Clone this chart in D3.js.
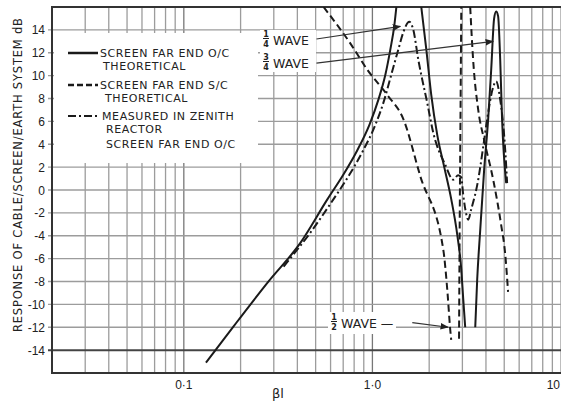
<!DOCTYPE html>
<html>
<head>
<meta charset="utf-8">
<script src="https://cdn.jsdelivr.net/npm/d3@7"></script>
<style>
  body { margin: 0; background: #fff; }
  text { font-family: "DejaVu Sans", sans-serif; fill: #222; }
</style>
</head>
<body>
<script>
// tick values / labels
const yTicks = [-14, -12, -10, -8, -6, -4, -2, 0, 2, 4, 6, 8, 10, 12, 14];
const xTickVals = [0.1, 1, 10];
const xTickLabels = ["0·1", "1·0", "10"];

// screen far end O/C theoretical (3 branches)  [βl, dB]
const ocRise = [[0.131,-15.1],[0.184,-11.9],[0.278,-8.1],[0.416,-4.6],[0.578,-0.8],[0.702,1.35],[0.833,3.5],[0.964,5.7],[1.076,7.9],[1.172,10.1],[1.245,12.3],[1.307,14.4],[1.34,16]];
const ocFall = [[1.816,16],[1.931,12.3],[2.052,8.3],[2.208,4.8],[2.404,2.0],[2.618,-0.8],[2.817,-3.9],[2.958,-6.9],[3.03,-9.5],[3.105,-12.0]];
const ocPeak = [[3.51,-12.0],[3.595,-7.8],[3.73,-3.5],[3.914,1.8],[4.11,6.2],[4.264,10.5],[4.42,15.0],[4.53,15.6],[4.64,15.2],[4.76,11.4],[4.87,6.2],[5.12,0.6]];

// screen far end S/C theoretical
const scDrop = [[0.551,16],[0.765,12.8],[0.941,10.5],[1.2,8.3],[1.459,6.2],[1.795,1.2],[2.375,-5.2],[2.494,-8.7],[2.586,-12.2],[2.617,-13.1]];
const scMid = [[2.88,-13],[2.9,-4],[2.93,6],[2.96,16]];
const scRise = [[3.30,16],[3.42,11.4],[3.64,7.0],[3.91,4.4],[4.37,0.9],[4.81,-3.0],[5.06,-5.6],[5.24,-8.9]];

// measured in Zenith reactor, screen far end O/C
const measured = [[0.338,-6.7],[0.47,-3.7],[0.622,-0.8],[0.756,1.35],[0.896,3.5],[1.037,5.7],[1.157,7.9],[1.26,10.1],[1.373,12.3],[1.459,13.8],[1.57,14.7],[1.648,14.0],[1.751,11.4],[1.954,7.6],[2.103,5.0],[2.434,2.2],[2.683,0.9],[2.851,1.3],[2.958,1.1],[3.03,-0.4],[3.144,-2.1],[3.22,-2.6],[3.34,-1.7],[3.64,0.9],[3.87,3.8],[4.06,6.2],[4.37,9.0],[4.53,9.5],[4.76,7.9],[5.06,3.5],[5.18,0.6]];

// annotation arrows: [from, to] in data units
const quarterArrow = [[0.505,13.2],[1.406,14.3]];
const threeQArrow = [[0.505,11.1],[4.37,13.0]];
const halfArrow = [[1.628,-11.6],[2.52,-12.0]];

let W = 561, H = 403;
let margin = {top: 7, left: 52, bottom: 30};

let x = d3.scaleLog().domain([0.02, 10]).range([margin.left, W]);
let y = d3.scaleLinear().domain([-16, 16]).range([H - margin.bottom, margin.top]);

let svg = d3.select("body").append("svg")
    .attr("width", W).attr("height", H);

svg.append("defs").append("clipPath").attr("id", "plot")
  .append("rect")
    .attr("x", x(0.02)).attr("y", y(16))
    .attr("width", x(10) - x(0.02)).attr("height", y(-16) - y(16));

// grid
let grid = svg.append("g");
grid.selectAll(".vg")
    .data(x.ticks())
    .enter().append("line")
    .attr("x1", d => x(d)).attr("x2", d => x(d))
    .attr("y1", y(16)).attr("y2", y(-16))
    .attr("stroke", d => (d === 1 || d === 0.1) ? "#777" : "#9c9c9c")
    .attr("stroke-width", 1.3);
grid.selectAll(".hg")
    .data(yTicks)
    .enter().append("line")
    .attr("x1", x(0.02) - 4).attr("x2", W)
    .attr("y1", d => y(d)).attr("y2", d => y(d))
    .attr("stroke", d => d === -14 ? "#444" : "#9c9c9c")
    .attr("stroke-width", d => d === -14 ? 2 : 1.3);

// white areas behind the legend and labels
svg.append("rect").attr("x", 54).attr("y", 33).attr("width", 204).attr("height", 130).attr("fill", "#fff");
svg.append("rect").attr("x", 260).attr("y", 30).attr("width", 56).attr("height", 42).attr("fill", "#fff");
svg.append("rect").attr("x", 328).attr("y", 312).attr("width", 68).attr("height", 22).attr("fill", "#fff");

// frame
svg.append("path")
    .attr("d", `M${W},${y(16)}H${x(0.02)}V${y(-16)}H${W}`)
    .attr("fill", "none").attr("stroke", "#333").attr("stroke-width", 2);

// y tick labels
svg.selectAll(".yl")
    .data(yTicks)
    .enter().append("text")
    .attr("x", 45).attr("y", d => y(d) + 4.5)
    .attr("text-anchor", "end")
    .style("font-size", "12px")
    .style("font-family", "'Liberation Sans', sans-serif")
    .text(d => d);

// x tick labels
svg.selectAll(".xl")
    .data(xTickVals)
    .enter().append("text")
    .attr("x", d => d === 10 ? W - 1 : x(d)).attr("y", 389)
    .attr("text-anchor", d => d === 10 ? "end" : "middle")
    .style("font-size", "12px")
    .style("font-family", "'Liberation Sans', sans-serif")
    .text((d, i) => xTickLabels[i]);

svg.append("text").attr("x", 278).attr("y", 398).attr("text-anchor", "middle")
    .style("font-size", "13px").text("βl");

svg.append("text")
    .attr("transform", "translate(22,175) rotate(-90)")
    .attr("text-anchor", "middle")
    .attr("textLength", 314)
    .style("font-size", "11.5px")
    .text("RESPONSE OF CABLE/SCREEN/EARTH SYSTEM dB");

// curves
let line = d3.line()
    .x(d => x(d[0])).y(d => y(d[1]))
    .curve(d3.curveMonotoneX);

let curves = svg.append("g").attr("clip-path", "url(#plot)");
let series = [
  {d: ocRise, dash: null}, {d: ocFall, dash: null}, {d: ocPeak, dash: null},
  {d: scDrop, dash: "7,4"}, {d: scMid, dash: "7,4"}, {d: scRise, dash: "7,4"},
  {d: measured, dash: "8,3,2,3"}
];
curves.selectAll(".curve")
    .data(series)
    .enter().append("path")
    .attr("d", s => line(s.d))
    .attr("fill", "none")
    .attr("stroke", "#1a1a1a")
    .attr("stroke-width", 2)
    .attr("stroke-dasharray", s => s.dash);

// arrows
svg.append("defs").append("marker")
    .attr("id", "ah").attr("viewBox", "0 0 10 10")
    .attr("refX", 9).attr("refY", 5)
    .attr("markerWidth", 7).attr("markerHeight", 7)
    .attr("orient", "auto")
  .append("path").attr("d", "M0,1L10,5L0,9Z").attr("fill", "#222");

[quarterArrow, threeQArrow, halfArrow].forEach(a => {
  svg.append("line")
    .attr("x1", x(a[0][0])).attr("y1", y(a[0][1]))
    .attr("x2", x(a[1][0])).attr("y2", y(a[1][1]))
    .attr("stroke", "#333").attr("stroke-width", 1.2)
    .attr("marker-end", "url(#ah)");
});

// wave labels with stacked fractions
function waveLabel(px, py, num, den, extra) {
  let g = svg.append("g").attr("transform", `translate(${px},${py})`);
  g.append("text").attr("x", 4).attr("y", -3).attr("text-anchor", "middle")
    .style("font-size", "8px").style("font-weight", "bold").text(num);
  g.append("line").attr("x1", 1).attr("x2", 7).attr("y1", -1.5).attr("y2", -1.5)
    .attr("stroke", "#222").attr("stroke-width", 1);
  g.append("text").attr("x", 4).attr("y", 6.5).attr("text-anchor", "middle")
    .style("font-size", "8px").style("font-weight", "bold").text(den);
  g.append("text").attr("x", 11).attr("y", 4.5)
    .style("font-size", "12.5px").text("WAVE" + (extra || ""));
}
waveLabel(262, 40, "1", "4");
waveLabel(262, 63, "3", "4");
waveLabel(330, 323, "1", "2", " —");

// legend
let leg = svg.append("g");
leg.append("line").attr("x1", 68).attr("x2", 98).attr("y1", 53).attr("y2", 53)
    .attr("stroke", "#1a1a1a").attr("stroke-width", 2.5);
leg.append("line").attr("x1", 68).attr("x2", 98).attr("y1", 85).attr("y2", 85)
    .attr("stroke", "#1a1a1a").attr("stroke-width", 2.5).attr("stroke-dasharray", "6,3");
leg.append("line").attr("x1", 68).attr("x2", 99).attr("y1", 116).attr("y2", 116)
    .attr("stroke", "#1a1a1a").attr("stroke-width", 2).attr("stroke-dasharray", "8,3,2,3");

let legText = [
  ["SCREEN FAR END O/C", 100, 57], ["THEORETICAL", 103, 70],
  ["SCREEN FAR END S/C", 100, 89], ["THEORETICAL", 105, 102],
  ["MEASURED IN ZENITH", 102, 120], ["REACTOR", 106, 133],
  ["SCREEN FAR END O/C", 106, 148]
];
leg.selectAll(".lt")
    .data(legText)
    .enter().append("text")
    .attr("x", d => d[1]).attr("y", d => d[2])
    .style("font-size", "11px")
    .style("letter-spacing", "0.6px")
    .text(d => d[0]);
</script>
</body>
</html>
